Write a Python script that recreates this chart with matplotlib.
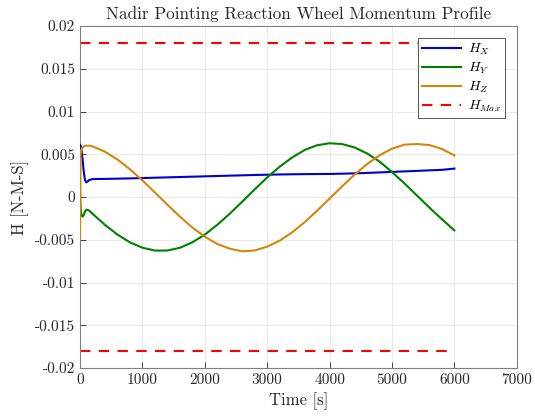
import numpy as np
import matplotlib
matplotlib.use('Agg')
import matplotlib.pyplot as plt

plt.rcParams['font.family'] = 'serif'
plt.rcParams['font.serif'] = ['cmr10', 'DejaVu Serif']
plt.rcParams['mathtext.fontset'] = 'cm'
plt.rcParams['axes.unicode_minus'] = False

# time samples [s]
t = [0, 10, 20, 40, 60, 80, 100, 120, 150, 200, 400, 600, 800, 1000, 1200, 1400,
     1600, 1800, 2000, 2200, 2400, 2600, 2800, 3000, 3200, 3400, 3600, 3800,
     4000, 4200, 4400, 4600, 4800, 5000, 5200, 5400, 5600, 5800, 6000]

# wheel momentum [N-m-s]
h_x = [0.0061, 0.0060, 0.0057, 0.0045, 0.0030, 0.0020, 0.0017, 0.0018, 0.0020, 0.0021,
       0.00212, 0.00215, 0.00218, 0.00222, 0.00226, 0.0023, 0.00234, 0.00238, 0.00242,
       0.00246, 0.0025, 0.00254, 0.00258, 0.00261, 0.00264, 0.00266, 0.00268, 0.00269,
       0.0027, 0.00273, 0.00277, 0.00282, 0.00288, 0.00294, 0.003, 0.00306, 0.00312,
       0.00318, 0.00333]
h_y = [0.0008, -0.0012, -0.0020, -0.0023, -0.0021, -0.0017, -0.0015, -0.0015, -0.0016,
       -0.00195, -0.00325, -0.00439, -0.0053, -0.00593, -0.00626, -0.00626, -0.00594,
       -0.0053, -0.0044, -0.00325, -0.00195, -0.00054, 0.0009, 0.00229, 0.00355, 0.00463,
       0.0055, 0.00606, 0.00629, 0.0062, 0.0058, 0.0051, 0.00415, 0.00293, 0.00159,
       0.00018, -0.00124, -0.0026, -0.0039]
h_z = [-0.0048, 0.0050, 0.0055, 0.0058, 0.0059, 0.0060, 0.0060, 0.0060, 0.0060, 0.00593,
       0.0053, 0.00439, 0.00325, 0.00195, 0.00054, -0.0009, -0.00228, -0.00356, -0.00464,
       -0.00549, -0.00604, -0.00635, -0.00625, -0.0058, -0.0051, -0.00413, -0.00294,
       -0.0016, -0.00018, 0.00125, 0.00262, 0.00385, 0.00488, 0.00566, 0.00613, 0.0062,
       0.00608, 0.00562, 0.00487]
h_max = 0.018
t_max = [0, 6000]

x_ticks = [0, 1000, 2000, 3000, 4000, 5000, 6000, 7000]
y_ticks = [-0.02, -0.015, -0.01, -0.005, 0, 0.005, 0.01, 0.015, 0.02]
y_labels = ['-0.02', '-0.015', '-0.01', '-0.005', '0', '0.005', '0.01', '0.015', '0.02']

fig = plt.figure(figsize=(5.35, 4.17), dpi=100)
ax = fig.add_axes([0.1495, 0.1175, 0.8165, 0.82])

ax.plot(t, h_x, color='#0000cc', lw=1.5, label='$H_X$', zorder=3)
ax.plot(t, h_y, color='#008000', lw=1.5, label='$H_Y$', zorder=3)
ax.plot(t, h_z, color='#d4860b', lw=1.5, label='$H_Z$', zorder=3)
ax.plot(t_max, [h_max, h_max], color='#ff0000', lw=1.5, ls=(0, (5, 4)), label='$H_{Max}$')
ax.plot(t_max, [-h_max, -h_max], color='#ff0000', lw=1.5, ls=(0, (5, 4)))

ax.set_xlim(0, 7000)
ax.set_ylim(-0.02, 0.02)
ax.set_xticks(x_ticks)
ax.set_xticklabels([str(v) for v in x_ticks])
ax.set_yticks(y_ticks)
ax.set_yticklabels(y_labels)
ax.tick_params(direction='in', labelsize=11, colors='#262626', length=4, width=0.6)
ax.grid(True, color='#e6e6e6', lw=0.6)
ax.set_axisbelow(True)
for s in ax.spines.values():
    s.set_color('#808080')
    s.set_linewidth(0.8)

ax.set_xlabel('Time [s]', fontsize=12, color='#262626')
ax.set_ylabel('H [N-M-S]', fontsize=12, color='#262626')
ax.set_title('Nadir Pointing Reaction Wheel Momentum Profile', fontsize=12.4, color='#262626', pad=5)

leg = ax.legend(loc='upper right', fontsize=10, fancybox=False, framealpha=1,
                edgecolor='#555555', handlelength=2.8, borderaxespad=0.85,
                labelspacing=0.25, borderpad=0.3, handletextpad=0.5)
leg.get_frame().set_linewidth(0.7)

fig.savefig('out.png', dpi=100)
